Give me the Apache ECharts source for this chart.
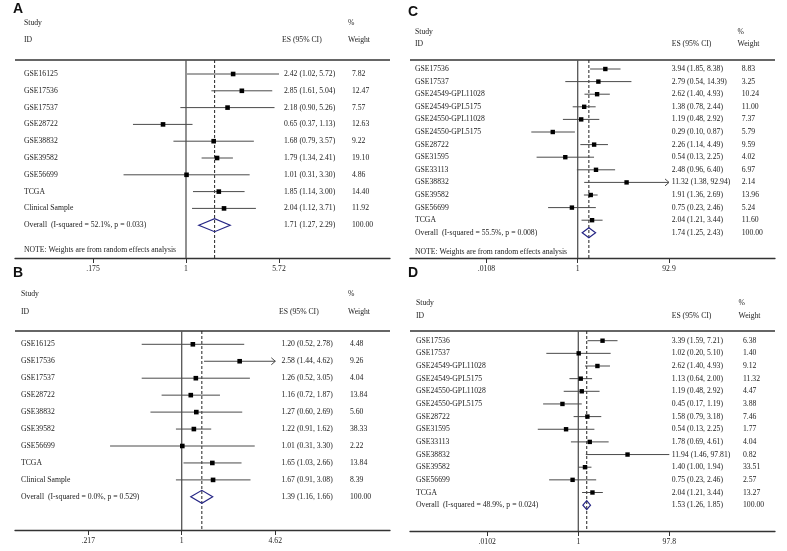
<!DOCTYPE html>
<html>
<head>
<meta charset="utf-8">
<script src="https://cdn.jsdelivr.net/npm/echarts@6/dist/echarts.min.js"></script>
<style>
  html, body { margin: 0; background: #fff; }
  #main { width: 787px; height: 551px; }
</style>
</head>
<body>
<div id="main"></div>
<script>
// ---- panel A ----
const studiesA = ['GSE16125', 'GSE17536', 'GSE17537', 'GSE28722', 'GSE38832', 'GSE39582', 'GSE56699', 'TCGA', 'Clinical Sample']
const esA = [2.42, 2.85, 2.18, 0.65, 1.68, 1.79, 1.01, 1.85, 2.04]
const loA = [1.02, 1.61, 0.90, 0.37, 0.79, 1.34, 0.31, 1.14, 1.12]
const hiA = [5.72, 5.04, 5.26, 1.13, 3.57, 2.41, 3.30, 3.00, 3.71]
const weightA = [7.82, 12.47, 7.57, 12.63, 9.22, 19.10, 4.86, 14.40, 11.92]
const overallA = [1.71, 1.27, 2.29]
const hetA = ['52.1%', '0.033']
const tickValsA = [0.175, 1, 5.72]
const tickLabelsA = ['.175', '1', '5.72']

// ---- panel B ----
const studiesB = ['GSE16125', 'GSE17536', 'GSE17537', 'GSE28722', 'GSE38832', 'GSE39582', 'GSE56699', 'TCGA', 'Clinical Sample']
const esB = [1.20, 2.58, 1.26, 1.16, 1.27, 1.22, 1.01, 1.65, 1.67]
const loB = [0.52, 1.44, 0.52, 0.72, 0.60, 0.91, 0.31, 1.03, 0.91]
const hiB = [2.78, 4.62, 3.05, 1.87, 2.69, 1.62, 3.30, 2.66, 3.08]
const weightB = [4.48, 9.26, 4.04, 13.84, 5.60, 38.33, 2.22, 13.84, 8.39]
const overallB = [1.39, 1.16, 1.66]
const hetB = ['0.0%', '0.529']
const tickValsB = [0.217, 1, 4.62]
const tickLabelsB = ['.217', '1', '4.62']
const clippedB = ['GSE17536']

// ---- panel C ----
const studiesCD = ['GSE17536', 'GSE17537', 'GSE24549-GPL11028', 'GSE24549-GPL5175', 'GSE24550-GPL11028', 'GSE24550-GPL5175',
  'GSE28722', 'GSE31595', 'GSE33113', 'GSE38832', 'GSE39582', 'GSE56699', 'TCGA']
const esC = [3.94, 2.79, 2.62, 1.38, 1.19, 0.29, 2.26, 0.54, 2.48, 11.32, 1.91, 0.75, 2.04]
const loC = [1.85, 0.54, 1.40, 0.78, 0.48, 0.10, 1.14, 0.13, 0.96, 1.38, 1.36, 0.23, 1.21]
const hiC = [8.38, 14.39, 4.93, 2.44, 2.92, 0.87, 4.49, 2.25, 6.40, 92.94, 2.69, 2.46, 3.44]
const weightC = [8.83, 3.25, 10.24, 11.00, 7.37, 5.79, 9.59, 4.02, 6.97, 2.14, 13.96, 5.24, 11.60]
const overallC = [1.74, 1.25, 2.43]
const hetC = ['55.5%', '0.008']
const tickValsC = [0.0108, 1, 92.9]
const tickLabelsC = ['.0108', '1', '92.9']
const clippedC = ['GSE38832']

// ---- panel D ----
const esD = [3.39, 1.02, 2.62, 1.13, 1.19, 0.45, 1.58, 0.54, 1.78, 11.94, 1.40, 0.75, 2.04]
const loD = [1.59, 0.20, 1.40, 0.64, 0.48, 0.17, 0.79, 0.13, 0.69, 1.46, 1.00, 0.23, 1.21]
const hiD = [7.21, 5.10, 4.93, 2.00, 2.92, 1.19, 3.18, 2.25, 4.61, 97.81, 1.94, 2.46, 3.44]
const weightD = [6.38, 1.40, 9.12, 11.32, 4.47, 3.88, 7.46, 1.77, 4.04, 0.82, 33.51, 2.57, 13.27]
const overallD = [1.53, 1.26, 1.85]
const hetD = ['48.9%', '0.024']
const tickValsD = [0.0102, 1, 97.8]
const tickLabelsD = ['.0102', '1', '97.8']

const NOTE = 'NOTE: Weights are from random effects analysis'

const SERIF = '"Liberation Serif", "Times New Roman", serif'
const FS = 7.7
const TEXT = '#222'
const GREY = '#4a4a4a'
const NAVY = '#262685'

// layout: pixel frame of each panel (left/right/top line/axis line), where "1" and the top tick sit,
// the first row centre and row gap, and the text columns
const panels = [
  { letter: 'A', studies: studiesA, es: esA, lo: loA, hi: hiA, w: weightA, overall: overallA, het: hetA,
    ticks: tickValsA, tickLabels: tickLabelsA, clipped: [], note: true,
    left: 15, right: 390, top: 60, bottom: 258, oneX: 186, hiTickX: 279, firstRow: 74, gap: 16.8,
    labelX: 24, esX: 284, esHeadX: 282, wX: 352, wHeadX: 348, letterY: 9, studyY: 23, idY: 40, sq: 4.6, dh: 6.5 },
  { letter: 'B', studies: studiesB, es: esB, lo: loB, hi: hiB, w: weightB, overall: overallB, het: hetB,
    ticks: tickValsB, tickLabels: tickLabelsB, clipped: clippedB, note: false,
    left: 15, right: 390, top: 331, bottom: 530, oneX: 181.7, hiTickX: 275.3, firstRow: 344.3, gap: 16.95,
    labelX: 21, esX: 281.5, esHeadX: 279, wX: 350, wHeadX: 348, letterY: 273, studyY: 294, idY: 311.5, sq: 4.6, dh: 6.5 },
  { letter: 'C', studies: studiesCD, es: esC, lo: loC, hi: hiC, w: weightC, overall: overallC, het: hetC,
    ticks: tickValsC, tickLabels: tickLabelsC, clipped: clippedC, note: true,
    left: 410, right: 775, top: 60, bottom: 258, oneX: 577.7, hiTickX: 669, firstRow: 69, gap: 12.6,
    labelX: 415, esX: 671.7, esHeadX: 671.7, wX: 741.7, wHeadX: 737.5, letterY: 12, studyY: 32, idY: 44, sq: 4.4, dh: 5 },
  { letter: 'D', studies: studiesCD, es: esD, lo: loD, hi: hiD, w: weightD, overall: overallD, het: hetD,
    ticks: tickValsD, tickLabels: tickLabelsD, clipped: [], note: false,
    left: 410, right: 775, top: 331, bottom: 531, oneX: 578.3, hiTickX: 669.3, firstRow: 340.7, gap: 12.65,
    labelX: 416, esX: 671.7, esHeadX: 671.7, wX: 743, wHeadX: 738.5, letterY: 273, studyY: 303, idY: 316, sq: 4.4, dh: 4.5 },
]

function txt(text, x, y, extra) {
  return Object.assign({ type: 'text', style: { text: text, x: x, y: y, fill: TEXT, fontSize: FS,
    fontFamily: SERIF, verticalAlign: 'middle', align: 'left' } }, extra || {})
}

function ciText(v) {
  return v[0].toFixed(2) + ' (' + v[1].toFixed(2) + ', ' + v[2].toFixed(2) + ')'
}

function rowRenderer(p) {
  const n = p.studies.length
  return function (params, api) {
    const i = params.dataIndex
    const y = api.coord([1, i])[1]
    const kids = []
    if (i < n) {
      const clipped = p.clipped.indexOf(p.studies[i]) >= 0
      const hi = clipped ? p.ticks[2] : p.hi[i]
      const a = api.coord([p.lo[i], i])
      const b = api.coord([hi, i])
      const c = api.coord([p.es[i], i])
      kids.push({ type: 'line', shape: { x1: a[0], y1: y, x2: b[0], y2: y }, style: { stroke: GREY, lineWidth: 1 } })
      if (clipped) {
        kids.push({ type: 'polyline', shape: { points: [[b[0] - 4, y - 3.5], [b[0], y], [b[0] - 4, y + 3.5]] },
          style: { stroke: GREY, fill: null, lineWidth: 1 } })
      }
      kids.push({ type: 'rect', shape: { x: c[0] - p.sq / 2, y: y - p.sq / 2, width: p.sq, height: p.sq }, style: { fill: '#000' } })
      kids.push(txt(p.studies[i], p.labelX, y))
      kids.push(txt(ciText([p.es[i], p.lo[i], p.hi[i]]), p.esX, y))
      kids.push(txt(p.w[i].toFixed(2), p.wX, y))
    } else {
      const l = api.coord([p.overall[1], i])
      const m = api.coord([p.overall[0], i])
      const r = api.coord([p.overall[2], i])
      kids.push({ type: 'polygon', shape: { points: [[l[0], y], [m[0], y - p.dh], [r[0], y], [m[0], y + p.dh]] },
        style: { stroke: NAVY, fill: null, lineWidth: 1.2 } })
      kids.push(txt('Overall  (I-squared = ' + p.het[0] + ', p = ' + p.het[1] + ')', p.labelX, y))
      kids.push(txt(ciText(p.overall), p.esX, y))
      kids.push(txt((100).toFixed(2), p.wX, y))
      if (p.note) kids.push(txt(NOTE, p.labelX, api.coord([1, i + 1.5])[1]))
    }
    return { type: 'group', children: kids }
  }
}

function refRenderer(p) {
  return function (params, api) {
    const cs = params.coordSys
    const x1 = api.coord([1, 0])[0]
    const xo = api.coord([p.overall[0], 0])[0]
    return { type: 'group', children: [
      { type: 'line', shape: { x1: cs.x, y1: cs.y, x2: cs.x + cs.width, y2: cs.y }, style: { stroke: '#333', lineWidth: 1.3 } },
      { type: 'line', shape: { x1: x1, y1: cs.y, x2: x1, y2: cs.y + cs.height }, style: { stroke: '#555', lineWidth: 1.3 } },
      { type: 'line', shape: { x1: xo, y1: cs.y, x2: xo, y2: cs.y + cs.height }, style: { stroke: '#222', lineWidth: 1, lineDash: [3, 2] } },
    ] }
  }
}

const grids = [], xAxes = [], yAxes = [], series = [], graphics = []

panels.forEach(function (p, k) {
  const decade = (p.hiTickX - p.oneX) / Math.log10(p.ticks[2])
  grids.push({ left: p.left, top: p.top, width: p.right - p.left, height: p.bottom - p.top })
  xAxes.push({
    type: 'log', logBase: 10, gridIndex: k, position: 'bottom',
    min: Math.pow(10, (p.left - p.oneX) / decade),
    max: Math.pow(10, (p.right - p.oneX) / decade),
    axisLine: { onZero: false, lineStyle: { color: '#333', width: 1.3 } },
    axisTick: { show: true, customValues: p.ticks, length: 5, lineStyle: { color: '#333', width: 1 } },
    axisLabel: { customValues: p.ticks, margin: 7, color: TEXT, fontSize: FS, fontFamily: SERIF,
      formatter: function (v) {
        let best = 0
        p.ticks.forEach(function (t, j) { if (Math.abs(Math.log(t / v)) < Math.abs(Math.log(p.ticks[best] / v))) best = j })
        return p.tickLabels[best]
      } },
    splitLine: { show: false },
  })
  yAxes.push({
    type: 'value', gridIndex: k, inverse: true, show: false,
    min: -(p.firstRow - p.top) / p.gap, max: (p.bottom - p.firstRow) / p.gap,
  })
  series.push({
    type: 'custom', xAxisIndex: k, yAxisIndex: k, silent: true,
    renderItem: refRenderer(p), data: [[1, 0]],
  })
  series.push({
    type: 'custom', xAxisIndex: k, yAxisIndex: k, silent: true,
    renderItem: rowRenderer(p),
    data: p.es.map(function (v, i) { return [v, i] }).concat([[p.overall[0], p.studies.length]]),
  })
  graphics.push({ type: 'text', x: p.left - 2, y: p.letterY, style: { text: p.letter, fill: '#111',
    font: 'bold 14px "Liberation Sans", Arial, sans-serif', verticalAlign: 'middle' } })
  graphics.push({ type: 'text', x: p.labelX, y: p.studyY, style: { text: 'Study', fill: TEXT, fontSize: FS, fontFamily: SERIF, verticalAlign: 'middle' } })
  graphics.push({ type: 'text', x: p.labelX, y: p.idY, style: { text: 'ID', fill: TEXT, fontSize: FS, fontFamily: SERIF, verticalAlign: 'middle' } })
  graphics.push({ type: 'text', x: p.esHeadX, y: p.idY, style: { text: 'ES (95% CI)', fill: TEXT, fontSize: FS, fontFamily: SERIF, verticalAlign: 'middle' } })
  graphics.push({ type: 'text', x: p.wHeadX, y: p.studyY, style: { text: '%', fill: TEXT, fontSize: FS, fontFamily: SERIF, verticalAlign: 'middle' } })
  graphics.push({ type: 'text', x: p.wHeadX, y: p.idY, style: { text: 'Weight', fill: TEXT, fontSize: FS, fontFamily: SERIF, verticalAlign: 'middle' } })
})

const chart = echarts.init(document.getElementById('main'), null, { renderer: 'canvas' })
chart.setOption({
  animation: false,
  backgroundColor: '#fff',
  grid: grids,
  xAxis: xAxes,
  yAxis: yAxes,
  series: series,
  graphic: { elements: graphics },
})
</script>
</body>
</html>
